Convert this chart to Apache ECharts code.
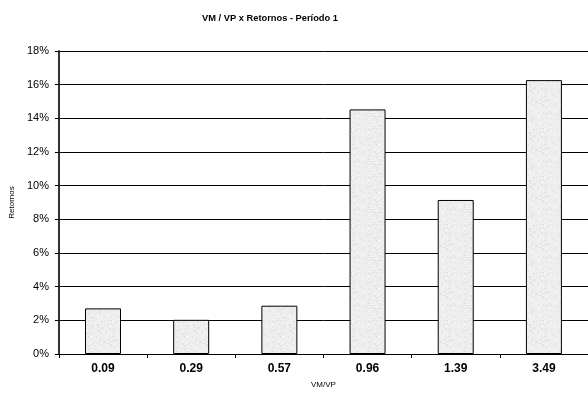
<!DOCTYPE html>
<html>
<head>
<meta charset="utf-8">
<script src="https://cdn.jsdelivr.net/npm/echarts@6/dist/echarts.min.js"></script>
<style>
  html, body { margin: 0; padding: 0; background: #fff; }
  #chart { width: 588px; height: 397px; }
</style>
</head>
<body>
<div id="chart"></div>
<script>
// VM/VP buckets and mean returns (%) for period 1
const categories = ['0.09', '0.29', '0.57', '0.96', '1.39', '3.49'];
const returns = [2.71, 2.03, 2.87, 14.53, 9.15, 16.27];
const yTicks = { min: 0, max: 18, interval: 2 };

// Light stippled fill for the bars (deterministic speckle)
function makeStipple() {
  const c = document.createElement('canvas');
  c.width = 48; c.height = 48;
  const ctx = c.getContext('2d');
  ctx.fillStyle = '#eeeeee';
  ctx.fillRect(0, 0, 48, 48);
  let s = 12345;
  const next = () => { s = (s * 1103515245 + 12345) & 0x7fffffff; return s / 0x7fffffff; };
  for (let i = 0; i < 600; i++) {
    const x = Math.floor(next() * 48), y = Math.floor(next() * 48);
    const g = 215 + Math.floor(next() * 40);
    ctx.fillStyle = 'rgb(' + g + ',' + g + ',' + g + ')';
    ctx.fillRect(x, y, 1, 1);
  }
  return c;
}

const chart = echarts.init(document.getElementById('chart'), null, { renderer: 'canvas' });
chart.setOption({
  animation: false,
  textStyle: { fontFamily: 'Liberation Sans, Arial, sans-serif' },
  title: {
    text: 'VM / VP x Retornos - Período 1',
    left: 265, top: 9, textAlign: 'center',
    textStyle: { fontSize: 9.3, fontWeight: 'bold', color: '#000' }
  },
  grid: { left: 57, top: 51, width: 534, height: 303 },
  xAxis: {
    type: 'category',
    data: categories,
    name: 'VM/VP', nameLocation: 'middle', nameGap: 27,
    nameTextStyle: { fontSize: 8, color: '#000' },
    axisLine: { lineStyle: { color: '#000', width: 1 } },
    axisTick: { show: true, length: 4, lineStyle: { color: '#000' } },
    axisLabel: { fontSize: 12, fontWeight: 'bold', color: '#000', margin: 9 }
  },
  yAxis: {
    type: 'value',
    min: yTicks.min, max: yTicks.max, interval: yTicks.interval,
    name: 'Retornos', nameLocation: 'middle', nameGap: 42, nameRotate: 90,
    nameTextStyle: { fontSize: 8, color: '#000' },
    axisLine: { show: true, lineStyle: { color: '#333', width: 2 } },
    axisTick: { show: true, length: 4, lineStyle: { color: '#000' } },
    axisLabel: { fontSize: 11, color: '#000', margin: 10, formatter: v => v + '%' },
    splitLine: { lineStyle: { color: '#000', width: 1 } }
  },
  series: [{
    type: 'bar',
    data: returns,
    barWidth: 36,
    itemStyle: {
      color: { image: makeStipple(), repeat: 'repeat' },
      borderColor: '#000', borderWidth: 1
    }
  }]
});
</script>
</body>
</html>
